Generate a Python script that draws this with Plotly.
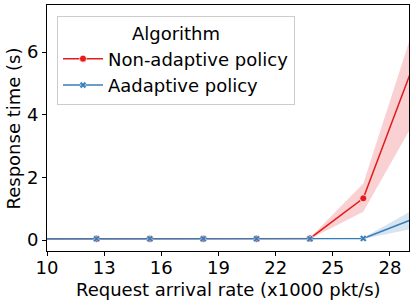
import plotly.graph_objects as go

x = [9.8, 12.6, 15.4, 18.2, 21.0, 23.8, 26.6, 29.4]
red_mean = [0.04, 0.04, 0.04, 0.04, 0.04, 0.05, 1.33, 5.85]
red_lo = [0.03, 0.03, 0.03, 0.03, 0.03, 0.03, 0.90, 3.91]
red_hi = [0.05, 0.05, 0.05, 0.05, 0.05, 0.07, 1.80, 7.07]
blue_mean = [0.04, 0.04, 0.04, 0.04, 0.04, 0.04, 0.05, 0.715]
blue_lo = [0.03, 0.03, 0.03, 0.03, 0.03, 0.03, 0.03, 0.39]
blue_hi = [0.05, 0.05, 0.05, 0.05, 0.05, 0.05, 0.07, 1.02]
x_ticks = [10, 13, 16, 19, 22, 25, 28]
y_ticks = [0, 2, 4, 6]

RED = "#e41a1c"
BLUE = "#377eb8"
FONT = "DejaVu Sans"
FS = 18

fig = go.Figure()

def band(lo, hi, color):
    fig.add_trace(go.Scatter(
        x=x + x[::-1], y=hi + lo[::-1], fill="toself", fillcolor=color,
        line=dict(width=0), mode="lines", hoverinfo="skip", showlegend=False))

band(red_lo, red_hi, "rgba(228,26,28,0.2)")
band(blue_lo, blue_hi, "rgba(55,126,184,0.2)")

fig.add_trace(go.Scatter(
    x=x, y=red_mean, mode="lines+markers", name="Non-adaptive policy",
    line=dict(color=RED, width=1.5),
    marker=dict(symbol="circle", size=7, color=RED, line=dict(color="white", width=0.7))))
fig.add_trace(go.Scatter(
    x=x, y=blue_mean, mode="lines+markers", name="Aadaptive policy",
    line=dict(color=BLUE, width=1.5),
    marker=dict(symbol="x", size=6, color=BLUE, line=dict(color="white", width=0.5))))

fig.update_layout(
    width=416, height=305,
    margin=dict(l=47, r=7, t=5, b=54),
    paper_bgcolor="white", plot_bgcolor="white",
    font=dict(family=FONT, color="black"),
    showlegend=True,
    legend=dict(
        x=0.0276, y=0.955, xanchor="left", yanchor="top",
        bgcolor="rgba(255,255,255,0.8)", bordercolor="#cccccc", borderwidth=1,
        font=dict(size=FS, family=FONT), itemwidth=40,
        title=dict(text="Algorithm", side="top center", font=dict(size=FS, family=FONT)),
        tracegroupgap=0),
    xaxis=dict(
        range=[10, 29], tickvals=x_ticks, ticktext=[str(v) for v in x_ticks],
        showgrid=False, zeroline=False, showline=True, linecolor="black", linewidth=1,
        mirror=True, ticks="outside", ticklen=4, tickcolor="black", automargin=False,
        ticklabelstandoff=-4,
        tickfont=dict(size=FS, family=FONT)),
    yaxis=dict(
        range=[-0.35, 7.5], tickvals=y_ticks, ticktext=[str(v) for v in y_ticks],
        showgrid=False, zeroline=False, showline=True, linecolor="black", linewidth=1,
        mirror=True, ticks="outside", ticklen=4, tickcolor="black", automargin=False,
        tickfont=dict(size=FS, family=FONT)),
    annotations=[
        dict(text="Request arrival rate (x1000 pkt/s)", xref="paper", yref="paper",
             x=0.5, y=-0.155, xanchor="center", yanchor="middle", showarrow=False,
             font=dict(size=FS, family=FONT)),
        dict(text="Response time (s)", xref="paper", yref="paper", textangle=-90,
             x=-0.0912, y=0.498, xanchor="center", yanchor="middle", showarrow=False,
             font=dict(size=FS, family=FONT)),
    ],
)

fig.write_html("out.html", config={"displayModeBar": False},
               post_script="document.body.style.margin='0';")
